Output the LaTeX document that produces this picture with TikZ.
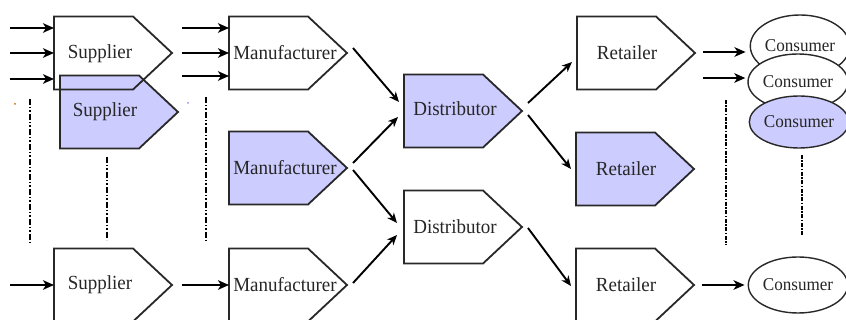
\documentclass[tikz,border=0pt]{standalone}
\usepackage{fontspec}
\setmainfont{Liberation Serif}
\newfontfamily\stagefont{Liberation Serif}[FakeStretch=0.95]
\usetikzlibrary{arrows.meta,shapes.geometric,calc}
\pgfdeclarelayer{background}
\pgfsetlayers{background,main}
\definecolor{stageblue}{RGB}{204,204,255}
\definecolor{outline}{RGB}{40,40,40}

\tikzset{
  stage/.style={rectangle, minimum width=118pt, minimum height=73pt, inner sep=0pt, outer sep=0pt},
  caption/.style={font=\stagefont\fontsize{20}{22}\selectfont, inner sep=0pt, text=black!85},
  pentagon/.style={draw=outline, line width=1.8pt, line join=miter},
  consumer/.style={ellipse, draw=outline, line width=1.4pt, fill=#1, inner sep=0pt,
    font=\stagefont\fontsize{18}{20}\selectfont, text=black!85},
  flow/.style={line width=2.7pt, -{Stealth[length=11pt,width=9.5pt,inset=3pt]}},
  link/.style={line width=1.9pt, -{Stealth[length=10pt,width=8.5pt,inset=3pt]}},
  trail/.style={line width=1.4pt, dash pattern=on 6pt off 2pt on 1.5pt off 2pt on 1.5pt off 2pt},
  densetrail/.style={line width=2.6pt, dash pattern=on 4pt off 1.5pt on 1.5pt off 1.5pt},
}
% five-sided stage outline built on a stage node
\newcommand\pentagonpath[1]{(#1.north west) -- ([xshift=-39pt]#1.north east) -- (#1.east)
  -- ([xshift=-39pt]#1.south east) -- (#1.south west) -- cycle}

\begin{document}
\begin{tikzpicture}[x=1pt,y=-1pt]
\useasboundingbox (0,0) rectangle (846,320);

% stage frames
\node[stage] (s2) at (119,112) {};
\node[stage] (s1) at (113,53) {};
\node[stage] (s3) at (113,285) {};
\node[stage] (m1) at (288,53) {};
\node[stage] (m2) at (288,168) {};
\node[stage] (m3) at (288,285) {};
\node[stage] (d1) at (463,111) {};
\node[stage] (d2) at (463,227) {};
\node[stage] (r1) at (636,53) {};
\node[stage] (r2) at (635,169) {};
\node[stage] (r3) at (635,285) {};

\begin{pgfonlayer}{background}
  \draw[pentagon, fill=stageblue] \pentagonpath{s2};
  \draw[pentagon] \pentagonpath{s1};
  \draw[pentagon] \pentagonpath{s3};
  \draw[pentagon] \pentagonpath{m1};
  \draw[pentagon, fill=stageblue] \pentagonpath{m2};
  \draw[pentagon] \pentagonpath{m3};
  \draw[pentagon, fill=stageblue] \pentagonpath{d1};
  \draw[pentagon] \pentagonpath{d2};
  \draw[pentagon] \pentagonpath{r1};
  \draw[pentagon, fill=stageblue] \pentagonpath{r2};
  \draw[pentagon] \pentagonpath{r3};
\end{pgfonlayer}

% stage names
\node[caption] (s1t) at ([xshift=-13pt,yshift=-1pt]s1.center) {Supplier};
\node[caption] (s2t) at ([xshift=-14pt]s2.center) {Supplier};
\node[caption] (s3t) at ([xshift=-13pt]s3.center) {Supplier};
\node[caption] (m1t) at ([xshift=-3pt]m1.center) {Manufacturer};
\node[caption] (m2t) at ([xshift=-3pt]m2.center) {Manufacturer};
\node[caption] (m3t) at ([xshift=-3pt]m3.center) {Manufacturer};
\node[caption] (d1t) at ([xshift=-8pt,yshift=2pt]d1.center) {Distributor};
\node[caption] (d2t) at ([xshift=-8pt]d2.center) {Distributor};
\node[caption] (r1t) at ([xshift=-9pt]r1.center) {Retailer};
\node[caption] (r2t) at ([xshift=-9pt]r2.center) {Retailer};
\node[caption] (r3t) at ([xshift=-9pt]r3.center) {Retailer};

% consumers
\node[consumer=white, minimum width=96pt, minimum height=62pt] (c1) at (800,46) {Consumer};
\node[consumer=white, minimum width=100pt, minimum height=56pt] (c2) at (798,82) {Consumer};
\node[consumer=stageblue, minimum width=98pt, minimum height=52pt] (c3) at (799,122) {Consumer};
\node[consumer=white, minimum width=94pt, minimum height=56pt] (c4) at (798,285) {Consumer};

% incoming supply
\coordinate (in1) at (10,28);
\coordinate (in2) at (10,53);
\coordinate (in3) at (10,79);
\coordinate (in4) at (10,285);
\draw[flow] (in1) -- (in1 -| s1.west);
\draw[flow] (in2) -- (in2 -| s1.west);
\draw[flow] (in3) -- (in3 -| s1.west);
\draw[flow] (in4) -- (in4 -| s3.west);

% supplier to manufacturer
\draw[flow] ([xshift=10pt,yshift=25pt]s1.east) -- ([yshift=25pt]m1.west);
\draw[flow] ([xshift=10pt]s1.east) -- (m1.west);
\draw[flow] ([xshift=10pt,yshift=-23pt]s1.east) -- ([yshift=-23pt]m1.west);
\draw[flow] ([xshift=10pt]s3.east) -- (m3.west);

% manufacturer to distributor
\draw[link] ([xshift=6pt,yshift=5pt]m1.east) -- ([xshift=-5pt,yshift=9pt]d1.west);
\draw[link] ([xshift=6pt,yshift=5pt]m2.east) -- ([xshift=-6pt,yshift=-6pt]d1.west);
\draw[link] ([xshift=6pt,yshift=-2pt]m2.east) -- ([xshift=-7pt,yshift=4pt]d2.west);
\draw[link] ([xshift=6pt,yshift=2pt]m3.east) -- ([xshift=-7pt,yshift=-8pt]d2.west);

% distributor to retailer
\draw[link] ([xshift=6pt,yshift=8pt]d1.east) -- ([xshift=-5pt,yshift=-9pt]r1.west);
\draw[link] ([xshift=6pt,yshift=-4pt]d1.east) -- ([xshift=-5pt]r2.west);
\draw[link] ([xshift=6pt,yshift=-1pt]d2.east) -- ([xshift=-5pt,yshift=-1pt]r3.west);

% retailer to consumer
\draw[flow] ([xshift=8pt,yshift=1pt]r1.east) -- ([xshift=-4pt,yshift=-6pt]c1.west);
\draw[flow] ([xshift=8pt,yshift=-25pt]r1.east) -- ([xshift=-2pt,yshift=4pt]c2.west);
\draw[flow] ([xshift=8pt]r3.east) -- ([xshift=-3pt]c4.west);

% continuation marks
\draw[trail] (30,99) -- (30,245);
\draw[trail] (107,157) -- (107,240);
\draw[trail] (206,97) -- (206,243);
\draw[densetrail] (726,100) -- (726,245);
\draw[densetrail] (802,155) -- (802,237);
\fill[orange!80!black] (15,104) circle (1pt);
\fill[blue!45] (188,103) circle (1pt);
\end{tikzpicture}
\end{document}
